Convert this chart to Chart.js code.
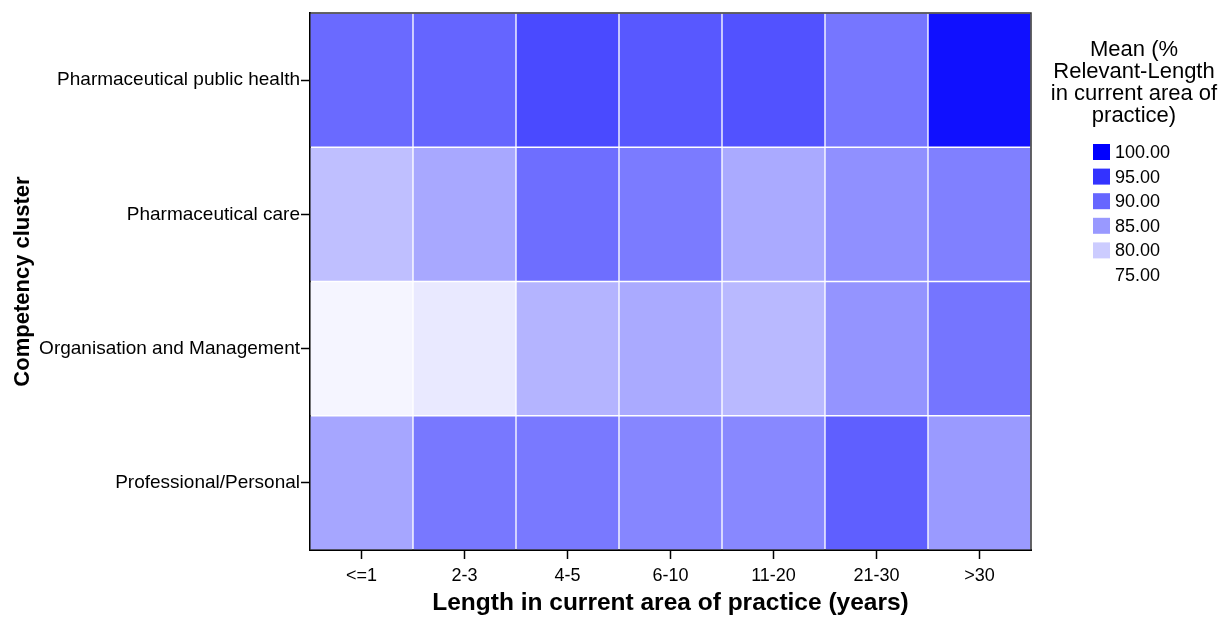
<!DOCTYPE html>
<html>
<head>
<meta charset="utf-8">
<title>Competency cluster heatmap</title>
<script src="https://cdn.jsdelivr.net/npm/chart.js@4.4.1/dist/chart.umd.min.js"></script>
<style>
  html, body { margin: 0; padding: 0; background: #ffffff; }
  #wrap { width: 1223px; height: 622px; }
</style>
</head>
<body>
<div id="wrap"><canvas id="heatmap" width="1223" height="622"></canvas></div>
<script>
// categories
const lengthGroups = ['<=1', '2-3', '4-5', '6-10', '11-20', '21-30', '>30'];
// rows from bottom to top
const clusters = ['Professional/Personal', 'Organisation and Management', 'Pharmaceutical care', 'Pharmaceutical public health'];

// mean % relevant (one array per cluster)
const professionalPersonal = [83.7, 88.2, 88.1, 86.9, 86.7, 90.7, 84.9];
const organisationManagement = [76.0, 77.2, 82.4, 83.3, 81.9, 85.5, 88.5];
const pharmaceuticalCare = [81.3, 83.5, 89.2, 87.9, 83.3, 85.9, 87.5];
const publicHealth = [89.6, 90.1, 92.7, 91.4, 92.0, 88.4, 98.4];

const legendValues = [100, 95, 90, 85, 80, 75];
const colorMin = 75;
const colorMax = 100;

const FONT = '"Liberation Sans", Arial, sans-serif';

function colorFor(v) {
  let t = (v - colorMin) / (colorMax - colorMin);
  t = Math.max(0, Math.min(1, t));
  const c = Math.round(255 * (1 - t));
  return `rgb(${c}, ${c}, 255)`;
}

const rows = [professionalPersonal, organisationManagement, pharmaceuticalCare, publicHealth];

// frame on top and right of the plot area
const frameLines = {
  id: 'frameLines',
  afterDraw(chart) {
    const { ctx, chartArea: a } = chart;
    ctx.save();
    ctx.strokeStyle = '#333333';
    ctx.lineWidth = 1.5;
    ctx.beginPath();
    ctx.moveTo(a.left, a.top);
    ctx.lineTo(a.right, a.top);
    ctx.lineTo(a.right, a.bottom);
    ctx.stroke();
    ctx.restore();
  }
};

// colour legend on the right
const colorLegend = {
  id: 'colorLegend',
  afterDraw(chart) {
    const ctx = chart.ctx;
    ctx.save();
    ctx.fillStyle = '#000000';
    ctx.font = `22px ${FONT}`;
    ctx.textAlign = 'center';
    ctx.textBaseline = 'middle';
    const titleLines = ['Mean (%', 'Relevant-Length', 'in current area of', 'practice)'];
    titleLines.forEach((line, i) => ctx.fillText(line, 1134, 50 + i * 22));

    ctx.font = `18px ${FONT}`;
    ctx.textAlign = 'left';
    legendValues.forEach((v, i) => {
      const y = 152 + i * 24.6;
      if (v > colorMin) {
        ctx.fillStyle = colorFor(v);
        ctx.fillRect(1093, y - 8, 17, 16);
      }
      ctx.fillStyle = '#000000';
      ctx.fillText(v.toFixed(2), 1115, y + 1);
    });
    ctx.restore();
  }
};

const ctx = document.getElementById('heatmap').getContext('2d');
new Chart(ctx, {
  type: 'bar',
  data: {
    labels: lengthGroups,
    datasets: rows.map((vals, r) => ({
      label: clusters[r],
      data: vals.map(() => 1),
      meanValues: vals,
      backgroundColor: vals.map(colorFor),
      borderColor: 'rgba(255, 255, 255, 0.2)',
      borderWidth: 1,
      borderSkipped: false,
      categoryPercentage: 1,
      barPercentage: 1,
      stack: 'cells'
    }))
  },
  options: {
    responsive: false,
    animation: false,
    layout: { padding: { left: 0, right: 192, top: 13, bottom: 0 } },
    plugins: {
      legend: { display: false },
      tooltip: { enabled: false }
    },
    scales: {
      x: {
        stacked: true,
        grid: { display: true, offset: false, drawOnChartArea: false, tickLength: 9, tickColor: '#000000', tickWidth: 1.5 },
        border: { display: true, color: '#000000', width: 2 },
        ticks: { color: '#000000', font: { family: FONT, size: 18 }, padding: 6, maxRotation: 0 },
        title: {
          display: true,
          text: 'Length in current area of practice (years)',
          color: '#000000',
          font: { family: FONT, size: 24.5, weight: 'bold' },
          padding: { top: 0, bottom: 4 }
        },
        afterFit(scale) { scale.height = 72; }
      },
      y: {
        stacked: true,
        min: 0,
        max: 4,
        afterBuildTicks(scale) {
          scale.ticks = clusters.map((c, i) => ({ value: i + 0.5 }));
        },
        grid: { display: true, drawOnChartArea: false, tickLength: 9, tickColor: '#000000', tickWidth: 1.5 },
        border: { display: true, color: '#000000', width: 2 },
        ticks: {
          color: '#000000',
          font: { family: FONT, size: 19 },
          padding: 1,
          callback: (value) => clusters[Math.floor(value)]
        },
        title: {
          display: true,
          text: 'Competency cluster',
          color: '#000000',
          font: { family: FONT, size: 22, weight: 'bold' },
          padding: { top: 10, bottom: 0 }
        },
        afterFit(scale) { scale.width = 310; }
      }
    }
  },
  plugins: [frameLines, colorLegend]
});
</script>
</body>
</html>
